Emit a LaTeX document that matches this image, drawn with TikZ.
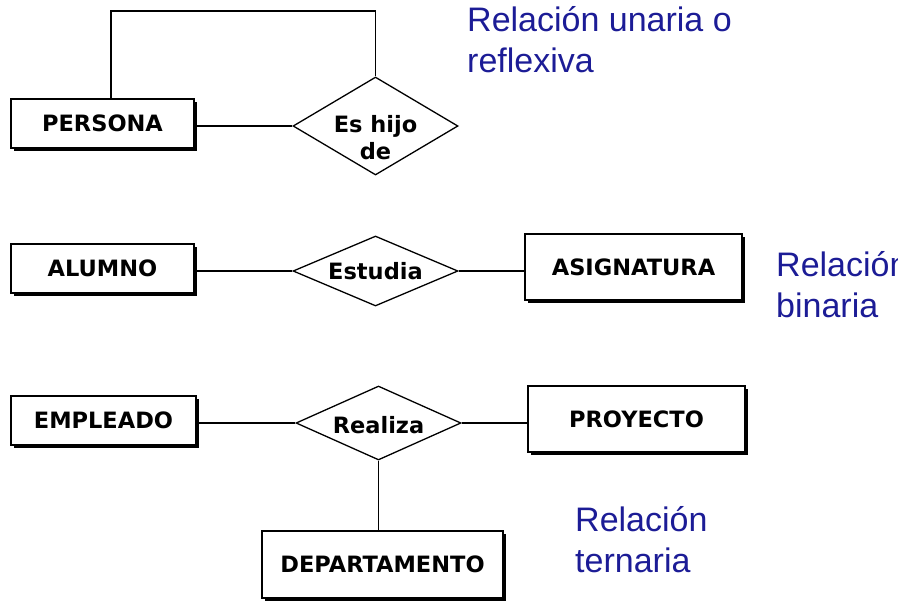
\documentclass[tikz,border=0pt]{standalone}
\usepackage{fontspec}
\setmainfont{Liberation Sans}
\newfontfamily\boxfont{DejaVu Sans}[BoldFont={DejaVu Sans Bold}]
\usetikzlibrary{shapes.geometric,shadows}
\definecolor{relblue}{RGB}{28,28,150}
\begin{document}
\begin{tikzpicture}[x=1pt,y=-1pt,
  entity/.style={draw=black, line width=1.3pt, fill=white, rectangle, inner sep=0pt,
    font=\boxfont\bfseries\fontsize{22.5}{26}\selectfont,
    drop shadow={shadow xshift=2.5pt, shadow yshift=-2.5pt, fill=black, opacity=1}},
  relat/.style={draw=black, line width=1.3pt, fill=white, diamond, inner sep=0pt},
  rtext/.style={font=\boxfont\bfseries\fontsize{22.5}{27}\selectfont, align=center},
  conn/.style={line width=1.3pt},
  note/.style={text=relblue, font=\fontsize{34}{41}\selectfont, align=left, anchor=north west, inner sep=0pt}
]
\useasboundingbox (0,0) rectangle (898,606);
% unary
\node[entity, minimum width=183pt, minimum height=49pt] (persona) at (102.5,123.5) {PERSONA};
\node[relat, minimum width=165pt, minimum height=98pt,
  label={[rtext, yshift=-12pt]center:Es hijo\\de}] (eshijo) at (375.5,126) {};
\draw[conn] (persona.east |- eshijo.west) -- (eshijo.west);
\draw[conn] (persona.north -| 111,0) |- (375.5,11) -- (eshijo.north);
\node[note] (n1) at (467,6) {Relación unaria o\\reflexiva};
% binary
\node[entity, minimum width=183pt, minimum height=49pt] (alumno) at (102.5,268.5) {ALUMNO};
\node[relat, minimum width=165pt, minimum height=70pt,
  label={[rtext]center:Estudia}] (estudia) at (375.5,271) {};
\node[entity, minimum width=217pt, minimum height=66pt] (asig) at (633.5,267) {ASIGNATURA};
\draw[conn] (alumno.east |- estudia.west) -- (estudia.west);
\draw[conn] (estudia.east) -- (asig.west |- estudia.east);
\node[note] (n2) at (776,251) {Relación\\binaria};
% ternary
\node[entity, minimum width=185pt, minimum height=49pt] (empleado) at (103.5,420.5) {EMPLEADO};
\node[relat, minimum width=165pt, minimum height=74pt,
  label={[rtext, yshift=-2pt]center:Realiza}] (realiza) at (378.5,423) {};
\node[entity, minimum width=217pt, minimum height=66pt] (proyecto) at (636.5,419) {PROYECTO};
\node[entity, minimum width=241pt, minimum height=67pt] (depto) at (382.5,564.5) {DEPARTAMENTO};
\draw[conn] (empleado.east |- realiza.west) -- (realiza.west);
\draw[conn] (realiza.east) -- (proyecto.west |- realiza.east);
\draw[conn] (realiza.south) -- (realiza.south |- depto.north);
\node[note] (n3) at (575,506) {Relación\\ternaria};
\end{tikzpicture}
\end{document}
